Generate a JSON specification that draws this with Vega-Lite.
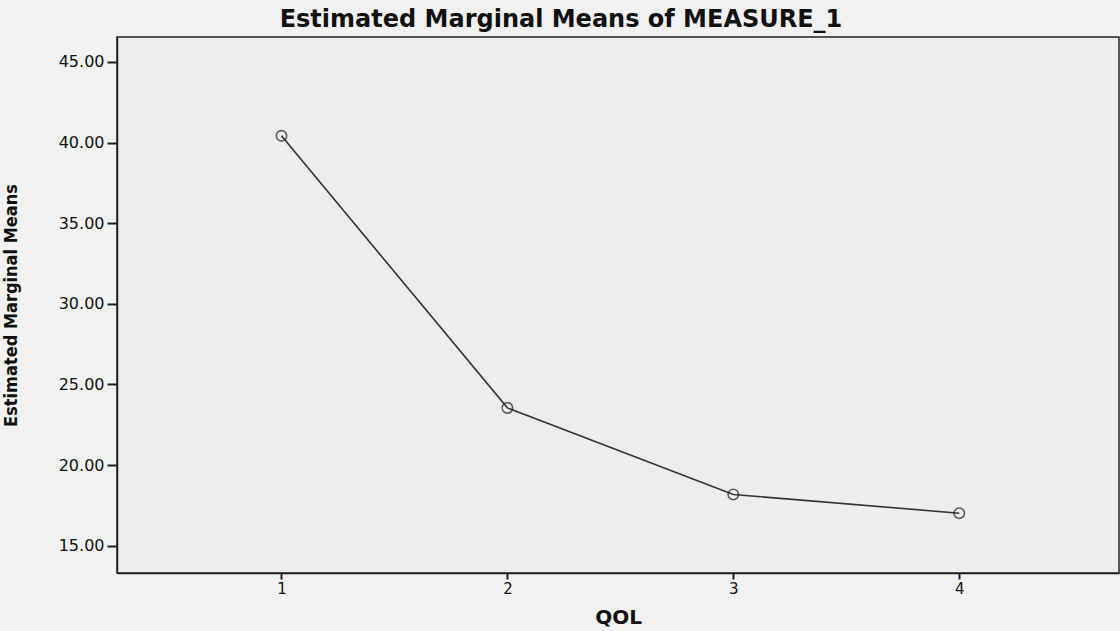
{
  "$schema": "https://vega.github.io/schema/vega-lite/v6.json",
  "autosize": "none",
  "width": 1002,
  "height": 536,
  "padding": {"left": 117, "top": 37, "right": 1, "bottom": 58},
  "background": "#f1f1f1",
  "title": {
    "text": "Estimated Marginal Means of MEASURE_1",
    "font": "DejaVu Sans",
    "fontSize": 24,
    "fontWeight": "bold",
    "color": "#111111",
    "anchor": "middle",
    "dx": -57,
    "offset": 5
  },
  "config": {
    "view": {"fill": "#ededed", "stroke": "#222222", "strokeWidth": 1.5},
    "axis": {
      "labelFont": "DejaVu Sans",
      "titleFont": "DejaVu Sans",
      "labelColor": "#111111",
      "titleColor": "#111111",
      "domainColor": "#222222",
      "tickColor": "#222222",
      "grid": false
    }
  },
  "data": {
    "values": [
      {"QOL": 1, "mean": 40.42},
      {"QOL": 2, "mean": 23.55},
      {"QOL": 3, "mean": 18.18},
      {"QOL": 4, "mean": 17.02}
    ]
  },
  "encoding": {
    "x": {
      "field": "QOL",
      "type": "quantitative",
      "scale": {"domain": [0.272, 4.707], "nice": false, "zero": false},
      "axis": {
        "values": [1, 2, 3, 4],
        "format": "d",
        "title": "QOL",
        "titleFontSize": 20,
        "titleFontWeight": "bold",
        "titlePadding": 11,
        "labelFontSize": 15,
        "labelPadding": 2,
        "tickSize": 6,
        "tickWidth": 2,
        "domainWidth": 1.5
      }
    },
    "y": {
      "field": "mean",
      "type": "quantitative",
      "scale": {"domain": [13.31, 46.55], "nice": false, "zero": false},
      "axis": {
        "values": [15, 20, 25, 30, 35, 40, 45],
        "format": ".2f",
        "title": "Estimated Marginal Means",
        "titleFont": "DejaVu Sans Condensed",
        "titleFontSize": 18,
        "titleFontWeight": "bold",
        "titleX": -97,
        "labelFontSize": 16,
        "labelPadding": 3,
        "tickSize": 10,
        "tickWidth": 2,
        "domainWidth": 1.5
      }
    }
  },
  "layer": [
    {"mark": {"type": "line", "color": "#333333", "strokeWidth": 1.6}},
    {"mark": {"type": "point", "shape": "circle", "filled": false, "size": 110, "stroke": "#222222", "strokeWidth": 1.6}}
  ]
}
